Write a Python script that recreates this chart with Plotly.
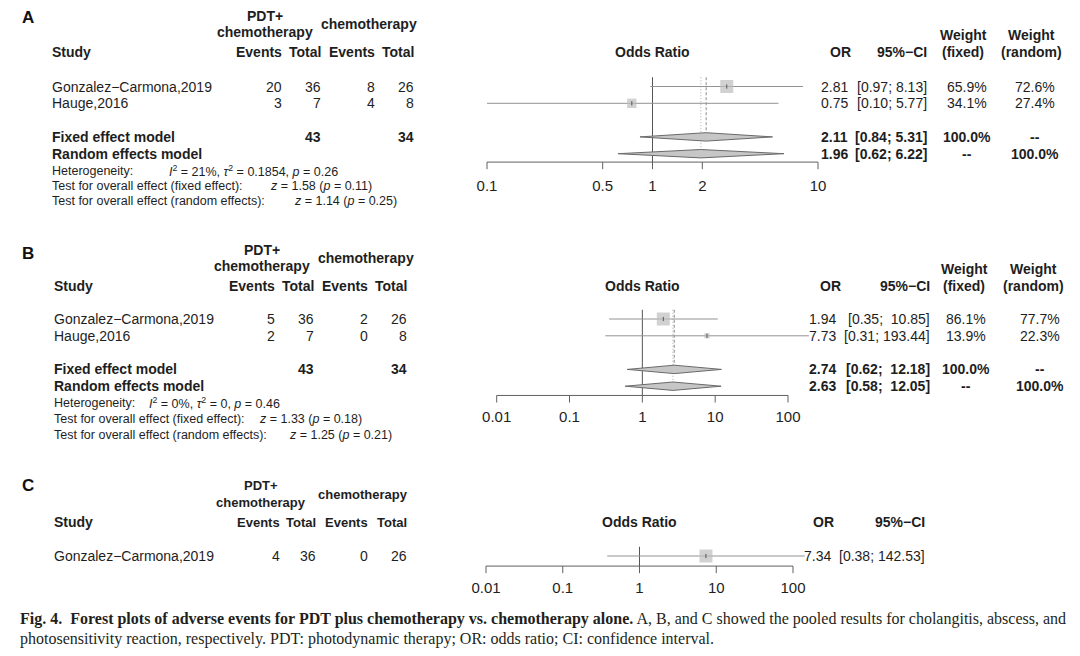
import math
import plotly.graph_objects as go

# the page puts the figure 8px in from the top-left corner
OFF = 8
W, H = 1080 - OFF, 656 - OFF
SANS = "Liberation Sans, Arial, sans-serif"
SERIF = "Liberation Serif, Times New Roman, serif"
INK = "#1e1e1e"

# ---- data: A cholangitis ----
a_study = ["Gonzalez−Carmona,2019", "Hauge,2016"]
a_ev_pdt = [20, 3]
a_n_pdt = [36, 7]
a_ev_chemo = [8, 4]
a_n_chemo = [26, 8]
a_or = [2.81, 0.75]
a_lo = [0.97, 0.10]
a_hi = [8.13, 5.77]
a_w_fixed = [65.9, 34.1]
a_w_random = [72.6, 27.4]
a_fixed = [2.11, 0.84, 5.31]
a_random = [1.96, 0.62, 6.22]
a_het = [21, 0.1854, 0.26]      # I2 %, tau2, p
a_z_fixed = [1.58, 0.11]
a_z_random = [1.14, 0.25]
a_ticks = [0.1, 0.5, 1, 2, 10]

# ---- data: B abscess ----
b_study = ["Gonzalez−Carmona,2019", "Hauge,2016"]
b_ev_pdt = [5, 2]
b_n_pdt = [36, 7]
b_ev_chemo = [2, 0]
b_n_chemo = [26, 8]
b_or = [1.94, 7.73]
b_lo = [0.35, 0.31]
b_hi = [10.85, 193.44]
b_w_fixed = [86.1, 13.9]
b_w_random = [77.7, 22.3]
b_fixed = [2.74, 0.62, 12.18]
b_random = [2.63, 0.58, 12.05]
b_het = [0, 0, 0.46]
b_z_fixed = [1.33, 0.18]
b_z_random = [1.25, 0.21]
b_ticks = [0.01, 0.1, 1, 10, 100]

# ---- data: C photosensitivity ----
c_study = ["Gonzalez−Carmona,2019"]
c_ev_pdt = [4]
c_n_pdt = [36]
c_ev_chemo = [0]
c_n_chemo = [26]
c_or = [7.34]
c_lo = [0.38]
c_hi = [142.53]
c_ticks = [0.01, 0.1, 1, 10, 100]

caption1 = ("<b>Fig. 4.  Forest plots of adverse events for PDT plus chemotherapy vs. chemotherapy alone.</b> "
            "A, B, and C showed the pooled results for cholangitis, abscess, and")
caption2 = ("photosensitivity reaction, respectively. PDT: photodynamic therapy; OR: odds ratio; "
            "CI: confidence interval.")

fig = go.Figure()


def fx(px):
    return (px - OFF) / W


def fy(py):
    return 1 - (py - OFF) / H


def label(text, x, y, anchor="left", size=14, bold=False, font=SANS, color=INK):
    if bold:
        text = "<b>" + text + "</b>"
    fig.add_annotation(text=text, x=fx(x), y=fy(y), xref="paper", yref="paper",
                       xanchor=anchor, yanchor="middle", showarrow=False,
                       font=dict(family=font, size=size, color=color))


def ci_text(lo, hi, width):
    s = f"{hi:.2f}"
    return f"[{lo:.2f};\u00a0" + "\u00a0" * (width - len(s)) + s + "]"


def draw_panel(k, d, g):
    suf = "" if k == 1 else str(k)
    xa, ya = "x" + suf, "y" + suf
    n = len(d["study"])
    rows = list(range(n))
    ypx = lambda r: g["y0"] + r * g["dy"]

    # axes calibrated so that the tick ends land on the drawn axis
    t0, t1 = d["ticks"][0], d["ticks"][-1]
    p0, p1 = g["tick_px"]
    per_dec = (p1 - p0) / (math.log10(t1) - math.log10(t0))
    left, right = 440, 870
    xr = [math.log10(t0) - (p0 - left) / per_dec, math.log10(t1) + (right - p1) / per_dec]
    top, bot = g["y_dom"]
    yr = [(bot - g["y0"]) / g["dy"], (top - g["y0"]) / g["dy"]]
    fig.update_layout({
        "xaxis" + suf: dict(type="log", range=xr, domain=[fx(left), fx(right)], anchor=ya, visible=False),
        "yaxis" + suf: dict(range=yr, domain=[fy(bot), fy(top)], anchor=xa, visible=False),
    })
    common = dict(xaxis=xa, yaxis=ya, hoverinfo="skip", showlegend=False)
    h = 0.25
    axis_row = g["axis_row"]

    # line of no effect
    fig.add_trace(go.Scatter(x=[1, 1], y=[-0.55, axis_row], mode="lines",
                             line=dict(color="#555555", width=1), **common))
    # pooled reference lines
    if "fixed" in d:
        fig.add_trace(go.Scatter(x=[d["fixed"][0]] * 2, y=[-0.55, n + 1 - h], mode="lines",
                                 line=dict(color="#8a8a8a", width=1, dash="3px,2px"), **common))
        fig.add_trace(go.Scatter(x=[d["random"][0]] * 2, y=[-0.55, n + 2 - h], mode="lines",
                                 line=dict(color="#aaaaaa", width=1, dash="1px,2px"), **common))

    # study confidence intervals
    xs, ys = [], []
    for r, lo, hi in zip(rows, d["lo"], d["hi"]):
        xs += [lo, hi, None]
        ys += [r, r, None]
    fig.add_trace(go.Scatter(x=xs, y=ys, mode="lines", line=dict(color="#939393", width=1), **common))

    # boxes sized by fixed weight
    wts = d.get("w_fixed", [100] * n)
    sizes = [13 * math.sqrt(w / max(wts)) for w in wts]
    fig.add_trace(go.Scatter(x=d["or"], y=rows, mode="markers",
                             marker=dict(symbol="square", size=sizes, color="#bdbdbd", line=dict(width=0)),
                             **common))
    fig.add_trace(go.Scatter(x=d["or"], y=rows, mode="markers",
                             marker=dict(symbol="line-ns", size=3, line=dict(color="#555555", width=1)),
                             **common))

    # diamonds
    for key, r in (("fixed", n + 1), ("random", n + 2)):
        if key in d:
            est, lo, hi = d[key]
            fig.add_trace(go.Scatter(x=[lo, est, hi, est, lo], y=[r, r - h, r, r + h, r],
                                     mode="lines", fill="toself", fillcolor="#c6c6c6",
                                     line=dict(color="#6a6a6a", width=1), **common))

    # x axis drawn from the tick values
    tx, ty = [t0, t1, None], [axis_row, axis_row, None]
    for t in d["ticks"]:
        tx += [t, t, None]
        ty += [axis_row, axis_row + 0.42, None]
    fig.add_trace(go.Scatter(x=tx, y=ty, mode="lines", line=dict(color="#606060", width=1), **common))
    fig.add_trace(go.Scatter(x=d["ticks"], y=[axis_row + g["lab_off"]] * len(d["ticks"]), mode="text",
                             text=[f"{t:g}" for t in d["ticks"]], textposition="middle center",
                             textfont=dict(family=SANS, size=15, color=INK), cliponaxis=False, **common))

    # ---- headers ----
    hy = g["head_y"]
    hs = g.get("head_size", 14)
    label(d["tag"], 28, g["tag_y"], anchor="center", size=17, bold=True, color="#111111")
    label("PDT+", g["pdt_x"], hy - 36, anchor="center", bold=True, size=hs)
    label("chemotherapy", g["pdt_x"], hy - 20, anchor="center", bold=True, size=hs)
    label("chemotherapy", g["chemo_x"], hy - 28, anchor="center", bold=True, size=hs)
    label("Study", g["name_x"], hy, bold=True)
    for txt, cx in zip(["Events", "Total", "Events", "Total"], g["cols"]):
        label(txt, cx, hy, anchor="right", bold=True, size=hs)
    label("Odds Ratio", (p0 + p1) / 2, hy, anchor="center", bold=True)
    label("OR", g["or_head_x"], hy, anchor="center", bold=True)
    label("95%−CI", g["ci_x"], hy, anchor="right", bold=True)
    if "w_fixed" in d:
        label("Weight", g["wf_head"], hy - 17, anchor="center", bold=True)
        label("(fixed)", g["wf_head"], hy, anchor="center", bold=True)
        label("Weight", g["wr_head"], hy - 17, anchor="center", bold=True)
        label("(random)", g["wr_head"], hy, anchor="center", bold=True)

    # ---- study rows ----
    all_hi = list(d["hi"]) + ([d["fixed"][2], d["random"][2]] if "fixed" in d else [])
    wdt = max(len(f"{v:.2f}") for v in all_hi)
    for i in rows:
        y = ypx(i)
        label(d["study"][i], g["name_x"], y)
        vals = [d["ev_pdt"][i], d["n_pdt"][i], d["ev_chemo"][i], d["n_chemo"][i]]
        for v, cx in zip(vals, g["cols"]):
            label(str(v), cx, y, anchor="right")
        label(f"{d['or'][i]:.2f}", g["or_x"], y, anchor="right")
        label(ci_text(d["lo"][i], d["hi"][i], wdt), g["ci_x"], y, anchor="right")
        if "w_fixed" in d:
            label(f"{d['w_fixed'][i]:.1f}%", g["wf_x"], y, anchor="center")
            label(f"{d['w_random'][i]:.1f}%", g["wr_x"], y, anchor="center")

    # ---- pooled rows ----
    if "fixed" in d:
        for key, r, name in (("fixed", n + 1, "Fixed effect model"), ("random", n + 2, "Random effects model")):
            y = ypx(r)
            est, lo, hi = d[key]
            label(name, g["name_x"], y, bold=True)
            if key == "fixed":
                label(str(sum(d["n_pdt"])), g["cols"][1], y, anchor="right", bold=True)
                label(str(sum(d["n_chemo"])), g["cols"][3], y, anchor="right", bold=True)
            label(f"{est:.2f}", g["or_x"], y, anchor="right", bold=True)
            label(ci_text(lo, hi, wdt), g["ci_x"], y, anchor="right", bold=True)
            label("100.0%" if key == "fixed" else "--", g["wf_x"], y, anchor="center", bold=True)
            label("--" if key == "fixed" else "100.0%", g["wr_x"], y, anchor="center", bold=True)

        i2, tau2, ph = d["het"]
        sy, sx = g["stat_y"], g["stat_x"]
        label("Heterogeneity:", g["name_x"], sy[0], size=12.5)
        label(f"<i>I</i><sup>2</sup> = {i2:g}%, <i>τ</i><sup>2</sup> = {tau2:g}, <i>p</i> = {ph:.2f}",
              sx[0], sy[0], size=12.5)
        label("Test for overall effect (fixed effect):", g["name_x"], sy[1], size=12.5)
        label(f"<i>z</i> = {d['z_fixed'][0]:.2f} (<i>p</i> = {d['z_fixed'][1]:.2f})", sx[1], sy[1], size=12.5)
        label("Test for overall effect (random effects):", g["name_x"], sy[2], size=12.5)
        label(f"<i>z</i> = {d['z_random'][0]:.2f} (<i>p</i> = {d['z_random'][1]:.2f})", sx[2], sy[2], size=12.5)


panel_a = dict(tag="A", study=a_study, ev_pdt=a_ev_pdt, n_pdt=a_n_pdt, ev_chemo=a_ev_chemo, n_chemo=a_n_chemo,
               lo=a_lo, hi=a_hi, w_fixed=a_w_fixed, w_random=a_w_random, fixed=a_fixed,
               random=a_random, het=a_het, z_fixed=a_z_fixed, z_random=a_z_random, ticks=a_ticks)
panel_a["or"] = a_or
panel_b = dict(tag="B", study=b_study, ev_pdt=b_ev_pdt, n_pdt=b_n_pdt, ev_chemo=b_ev_chemo, n_chemo=b_n_chemo,
               lo=b_lo, hi=b_hi, w_fixed=b_w_fixed, w_random=b_w_random, fixed=b_fixed,
               random=b_random, het=b_het, z_fixed=b_z_fixed, z_random=b_z_random, ticks=b_ticks)
panel_b["or"] = b_or
panel_c = dict(tag="C", study=c_study, ev_pdt=c_ev_pdt, n_pdt=c_n_pdt, ev_chemo=c_ev_chemo, n_chemo=c_n_chemo,
               lo=c_lo, hi=c_hi, ticks=c_ticks)
panel_c["or"] = c_or

geo_a = dict(tag_y=18, head_y=52, y0=86.5, dy=16.8, axis_row=4.5, lab_off=1.5, tick_px=(487, 818),
             y_dom=(60, 205), name_x=50, cols=(284, 323, 377, 416), pdt_x=265, chemo_x=369,
             or_x=850, ci_x=929, wf_x=967, wr_x=1035, or_head_x=840, wf_head=963, wr_head=1031,
             stat_y=(171, 186, 201), stat_x=(167, 268, 292))
geo_b = dict(tag_y=253, head_y=286, y0=319, dy=16.8, axis_row=4.55, lab_off=1.38, tick_px=(496.7, 788),
             y_dom=(295, 435), name_x=52, cols=(277, 316, 370, 409), pdt_x=262, chemo_x=366,
             or_x=838, ci_x=932, wf_x=966, wr_x=1040, or_head_x=830, wf_head=964, wr_head=1033,
             stat_y=(403, 419, 435), stat_x=(147, 257, 287))
geo_c = dict(tag_y=485, head_y=522, y0=556, dy=16.8, axis_row=0.6, lab_off=1.38, tick_px=(486, 793),
             y_dom=(535, 605), name_x=52, cols=(282, 318, 370, 409), pdt_x=261, chemo_x=363,
             or_x=833, ci_x=927, or_head_x=823, head_size=13)

draw_panel(1, panel_a, geo_a)
draw_panel(2, panel_b, geo_b)
draw_panel(3, panel_c, geo_c)

label(caption1, 18, 619, size=16, font=SERIF, color="#231f20")
label(caption2, 18, 639, size=16, font=SERIF, color="#231f20")

fig.update_layout(width=W, height=H, autosize=False, margin=dict(l=0, r=0, t=0, b=0),
                  paper_bgcolor="white", plot_bgcolor="rgba(0,0,0,0)", showlegend=False)

fig.write_html("out.html")
